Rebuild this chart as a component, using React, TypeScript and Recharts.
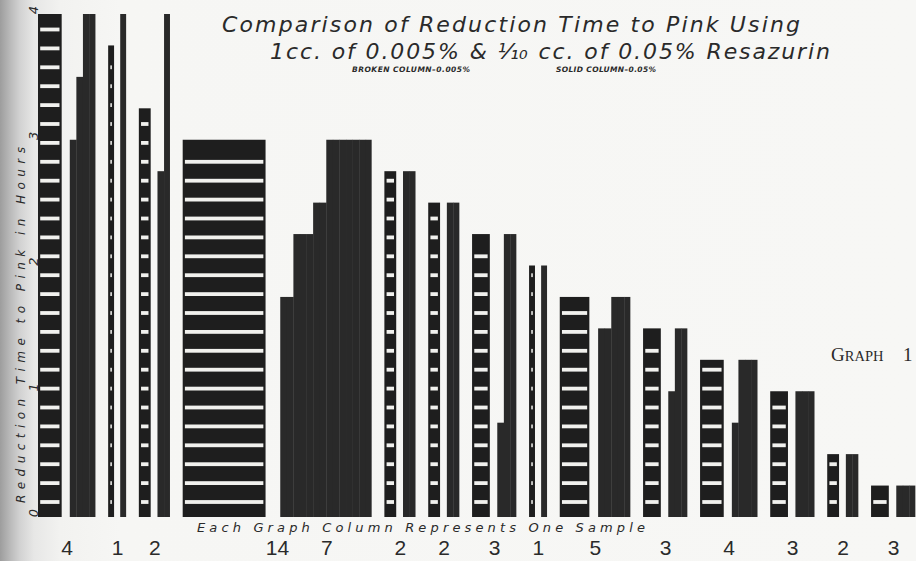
import React from 'react';
import { BarChart, Bar, XAxis, YAxis } from 'recharts';

// ---- data ----
// number of samples in each group (shown under the columns)
const groupCounts = [4, 1, 2, 14, 2, 2, 3, 1, 5, 3, 4, 3, 2, 3];
// broken column (1 cc of 0.005% resazurin): hours to pink for the whole group
const brokenHours = [4.0, 3.75, 3.25, 3.0, 2.75, 2.5, 2.25, 2.0, 1.75, 1.5, 1.25, 1.0, 0.5, 0.25];
// solid column (1/10 cc of 0.05% resazurin): hours to pink for each sample
const solidHours: number[][] = [
  [3.0, 3.5, 4.0, 4.0],
  [4.0],
  [2.75, 4.0],
  [1.75, 1.75, 2.25, 2.25, 2.25, 2.5, 2.5, 3.0, 3.0, 3.0, 3.0, 3.0, 3.0, 3.0],
  [2.75, 2.75],
  [2.5, 2.5],
  [0.75, 2.25, 2.25],
  [2.0],
  [1.5, 1.5, 1.75, 1.75, 1.75],
  [1.0, 1.5, 1.5],
  [0.75, 1.25, 1.25, 1.25],
  [1.0, 1.0, 1.0],
  [0.5, 0.5],
  [0.25, 0.25, 0.25],
];
const groupLabels = ['4', '1', '2', '14', '2', '2', '3', '1', '5', '3', '4', '3', '2', '3'];
const extraLabels = [{ group: 3, text: '7' }];
const yTicks = [0, 1, 2, 3, 4];

// ---- layout of the slot axis ----
const SLOTS_PER_SAMPLE = 6;
const PAIR_GAP_SLOTS = 5;
const GROUP_GAP_SLOTS = 11;
const CHART_W = 916;
const CHART_H = 561;
const Y_AXIS_W = 38;

type Row = {
  slot: string;
  broken: number | null;
  solid: number | null;
  pos: number;
  span: number;
  lastSample: boolean;
  label: string;
};

function buildRows(): Row[] {
  const rows: Row[] = [];
  const add = (broken: number | null, solid: number | null, pos: number, span: number, lastSample = false) =>
    rows.push({ slot: 'k' + rows.length, broken, solid, pos, span, lastSample, label: '' });
  const gap = (n: number) => {
    for (let i = 0; i < n; i++) add(null, null, 0, 0);
  };
  groupCounts.forEach((count, g) => {
    if (g > 0) gap(GROUP_GAP_SLOTS);
    const groupStart = rows.length;
    const span = count * SLOTS_PER_SAMPLE;
    for (let k = 0; k < span; k++) add(brokenHours[g], null, k, span);
    gap(PAIR_GAP_SLOTS);
    const solidStart = rows.length;
    const samples = solidHours[g];
    samples.forEach((v, si) => {
      for (let j = 0; j < SLOTS_PER_SAMPLE; j++) add(null, v, j, SLOTS_PER_SAMPLE, si === samples.length - 1);
    });
    const groupEnd = rows.length - 1;
    rows[Math.round((groupStart + groupEnd) / 2)].label = groupLabels[g];
    extraLabels
      .filter((e) => e.group === g)
      .forEach((e) => {
        rows[Math.round((solidStart + groupEnd) / 2)].label = e.text;
      });
  });
  return rows;
}

const rows = buildRows();
const labelBySlot = new Map(rows.map((r) => [r.slot, r.label]));
const SLOT_SIZE = (CHART_W - Y_AXIS_W) / rows.length;

const DARK = '#1e1e1e';
const SOLID = '#292929';
const STRIPE = '#f1f1ee';
const INK = '#2a2a2a';
const HAND = "'DejaVu Sans', 'Liberation Sans', sans-serif";

// the whole broken column is drawn once, from its first slot, as wide as its slots
const BrokenShape = (props: any) => {
  const { x, y, width, height, payload } = props;
  if (!payload || payload.broken == null || payload.pos !== 0 || !height || height <= 0) return <g />;
  const w = width * payload.span;
  const bottom = y + height;
  const parts: any[] = [<rect key="bg" x={x} y={y} width={w} height={height} fill={DARK} />];
  const inset = 2.2;
  let i = 0;
  for (let c = bottom - 15; c - 2 > y + 3; c -= 18.9) {
    parts.push(
      <rect key={'s' + i++} x={x + inset} y={c - 1.9} width={w - 2 * inset} height={3.8} fill={STRIPE} />
    );
  }
  return <g>{parts}</g>;
};

// each sample of a solid column is drawn once, from its first slot
const SolidShape = (props: any) => {
  const { x, y, width, height, payload } = props;
  if (!payload || payload.solid == null || payload.pos !== 0 || !height || height <= 0) return <g />;
  const w = width * payload.span + (payload.lastSample ? 0 : 1);
  return <rect x={x} y={y} width={w} height={height} fill={SOLID} />;
};

const BottomTick = (props: any) => {
  const { x, y, payload } = props;
  const text = labelBySlot.get(payload.value);
  if (!text) return <g />;
  return (
    <text x={x} y={y + 38} textAnchor="middle" fontSize={21} fontFamily="'Liberation Sans', Arial, sans-serif" fill={INK}>
      {text}
    </text>
  );
};

const LeftTick = (props: any) => {
  const { x, y, payload } = props;
  const ty = y - 4;
  return (
    <text
      x={x}
      y={ty}
      transform={`rotate(-90 ${x} ${ty})`}
      textAnchor="middle"
      dominantBaseline="central"
      fontSize={13}
      fontStyle="italic"
      fontFamily={HAND}
      fill={INK}
    >
      {payload.value}
    </text>
  );
};

export default function App() {
  return (
    <div
      style={{
        position: 'absolute',
        left: 0,
        top: 0,
        width: CHART_W,
        height: CHART_H,
        overflow: 'hidden',
        background:
          'linear-gradient(to right, #9d9d9d 0px, #b9b9b9 10px, #d2d2d2 20px, #e7e7e6 34px, #f2f2f0 60px, #f6f6f4 120px, #f7f7f5 100%)',
      }}
    >
      <div style={{ position: 'absolute', left: 0, top: 0 }}>
        <BarChart
          width={CHART_W}
          height={CHART_H}
          data={rows}
          margin={{ top: 14, right: 0, bottom: 0, left: 0 }}
          barCategoryGap={0}
          barGap={0}
        >
          <XAxis
            xAxisId="b"
            dataKey="slot"
            interval={0}
            tickLine={false}
            axisLine={false}
            tickSize={0}
            tickMargin={0}
            height={44}
            tick={<BottomTick />}
          />
          <XAxis xAxisId="s" dataKey="slot" hide />
          <YAxis
            type="number"
            domain={[0, 4]}
            ticks={yTicks}
            width={Y_AXIS_W}
            tickSize={0}
            tickMargin={5}
            axisLine={false}
            tickLine={false}
            tick={<LeftTick />}
            allowDataOverflow
          />
          <Bar xAxisId="b" dataKey="broken" barSize={SLOT_SIZE} shape={BrokenShape} isAnimationActive={false} />
          <Bar xAxisId="s" dataKey="solid" barSize={SLOT_SIZE} shape={SolidShape} isAnimationActive={false} />
        </BarChart>
      </div>
      <svg width={CHART_W} height={CHART_H} style={{ position: 'absolute', left: 0, top: 0, pointerEvents: 'none' }}>
        <g fontFamily={HAND} fontStyle="italic" fill={INK}>
          <text x={222} y={32} fontSize={22} textLength={578} lengthAdjust="spacing">
            Comparison of Reduction Time to Pink Using
          </text>
          <text x={270} y={59} fontSize={22} textLength={560} lengthAdjust="spacing">
            1cc. of 0.005% &amp; ⅒ cc. of 0.05% Resazurin
          </text>
          <text x={352} y={72} fontSize={7.5} fontWeight="bold" textLength={118} lengthAdjust="spacing">
            BROKEN COLUMN–0.005%
          </text>
          <text x={556} y={72} fontSize={7.5} fontWeight="bold" textLength={100} lengthAdjust="spacing">
            SOLID COLUMN–0.05%
          </text>
          <text
            x={21}
            y={325}
            transform="rotate(-90 21 325)"
            textAnchor="middle"
            dominantBaseline="central"
            fontSize={12}
            textLength={356}
            lengthAdjust="spacing"
          >
            Reduction Time to Pink in Hours
          </text>
          <text x={197} y={532} fontSize={13} textLength={448} lengthAdjust="spacing">
            Each Graph Column Represents One Sample
          </text>
        </g>
        <text x={831} y={361} fontFamily="'Liberation Serif', serif" fill={INK}>
          <tspan fontSize={19}>G</tspan>
          <tspan fontSize={14.5}>RAPH</tspan>
          <tspan x={903} fontSize={19}>1</tspan>
        </text>
      </svg>
    </div>
  );
}
